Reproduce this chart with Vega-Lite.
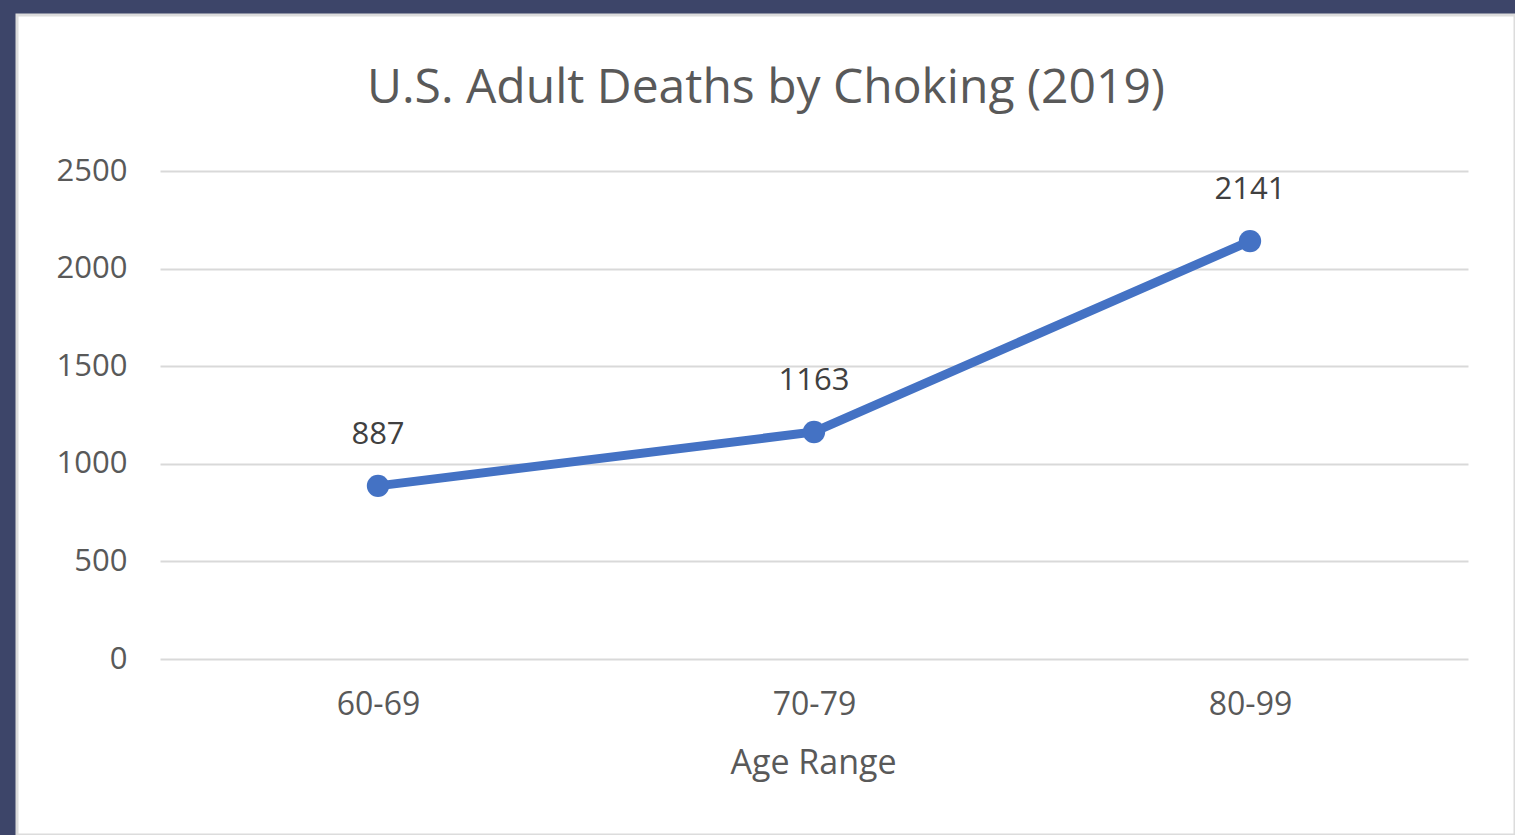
{
  "$schema": "https://vega.github.io/schema/vega-lite/v6.json",
  "width": 1498,
  "height": 820,
  "autosize": {"type": "none"},
  "padding": {"left": 17, "top": 15, "right": 0, "bottom": 0},
  "background": "#3d4569",
  "config": {
    "font": "Open Sans",
    "view": {"fill": "#ffffff", "stroke": "#dcdcdc", "strokeWidth": 3}
  },
  "title": {
    "text": "U.S. Adult Deaths by Choking (2019)",
    "fontSize": 48,
    "fontWeight": "normal",
    "color": "#595959",
    "anchor": "middle",
    "frame": "group",
    "baseline": "alphabetic",
    "offset": -136
  },
  "data": {
    "values": [
      {"age": "60-69", "deaths": 887},
      {"age": "70-79", "deaths": 1163},
      {"age": "80-99", "deaths": 2141}
    ]
  },
  "encoding": {
    "x": {
      "field": "age",
      "type": "ordinal",
      "sort": null,
      "scale": {"type": "point", "range": [143, 1451], "padding": 0.5},
      "axis": {
        "title": "Age Range",
        "orient": "bottom",
        "offset": -176,
        "ticks": false,
        "domain": false,
        "grid": false,
        "labelAngle": 0,
        "labelFontSize": 32,
        "labelColor": "#595959",
        "labelBaseline": "middle",
        "labelPadding": 45,
        "titleFontSize": 34,
        "titleFontWeight": "normal",
        "titleColor": "#595959",
        "titleX": 796,
        "titleY": 104,
        "titleAlign": "center",
        "titleBaseline": "middle"
      }
    },
    "y": {
      "field": "deaths",
      "type": "quantitative",
      "scale": {"domain": [0, 2500], "range": [644, 156], "nice": false},
      "axis": {
        "title": null,
        "orient": "left",
        "offset": -112,
        "values": [0, 500, 1000, 1500, 2000, 2500],
        "format": "d",
        "ticks": false,
        "domain": false,
        "grid": true,
        "gridColor": "#d9d9d9",
        "gridWidth": 2,
        "labelFontSize": 31,
        "labelColor": "#595959",
        "labelPadding": 2,
        "labelBaseline": "middle"
      }
    }
  },
  "layer": [
    {"mark": {"type": "line", "color": "#4472c4", "strokeWidth": 9}},
    {"mark": {"type": "point", "filled": true, "opacity": 1, "color": "#4472c4", "size": 500}},
    {
      "mark": {"type": "text", "dy": -51, "baseline": "middle", "fontSize": 31, "color": "#404040"},
      "encoding": {"text": {"field": "deaths", "type": "quantitative", "format": "d"}}
    }
  ]
}
